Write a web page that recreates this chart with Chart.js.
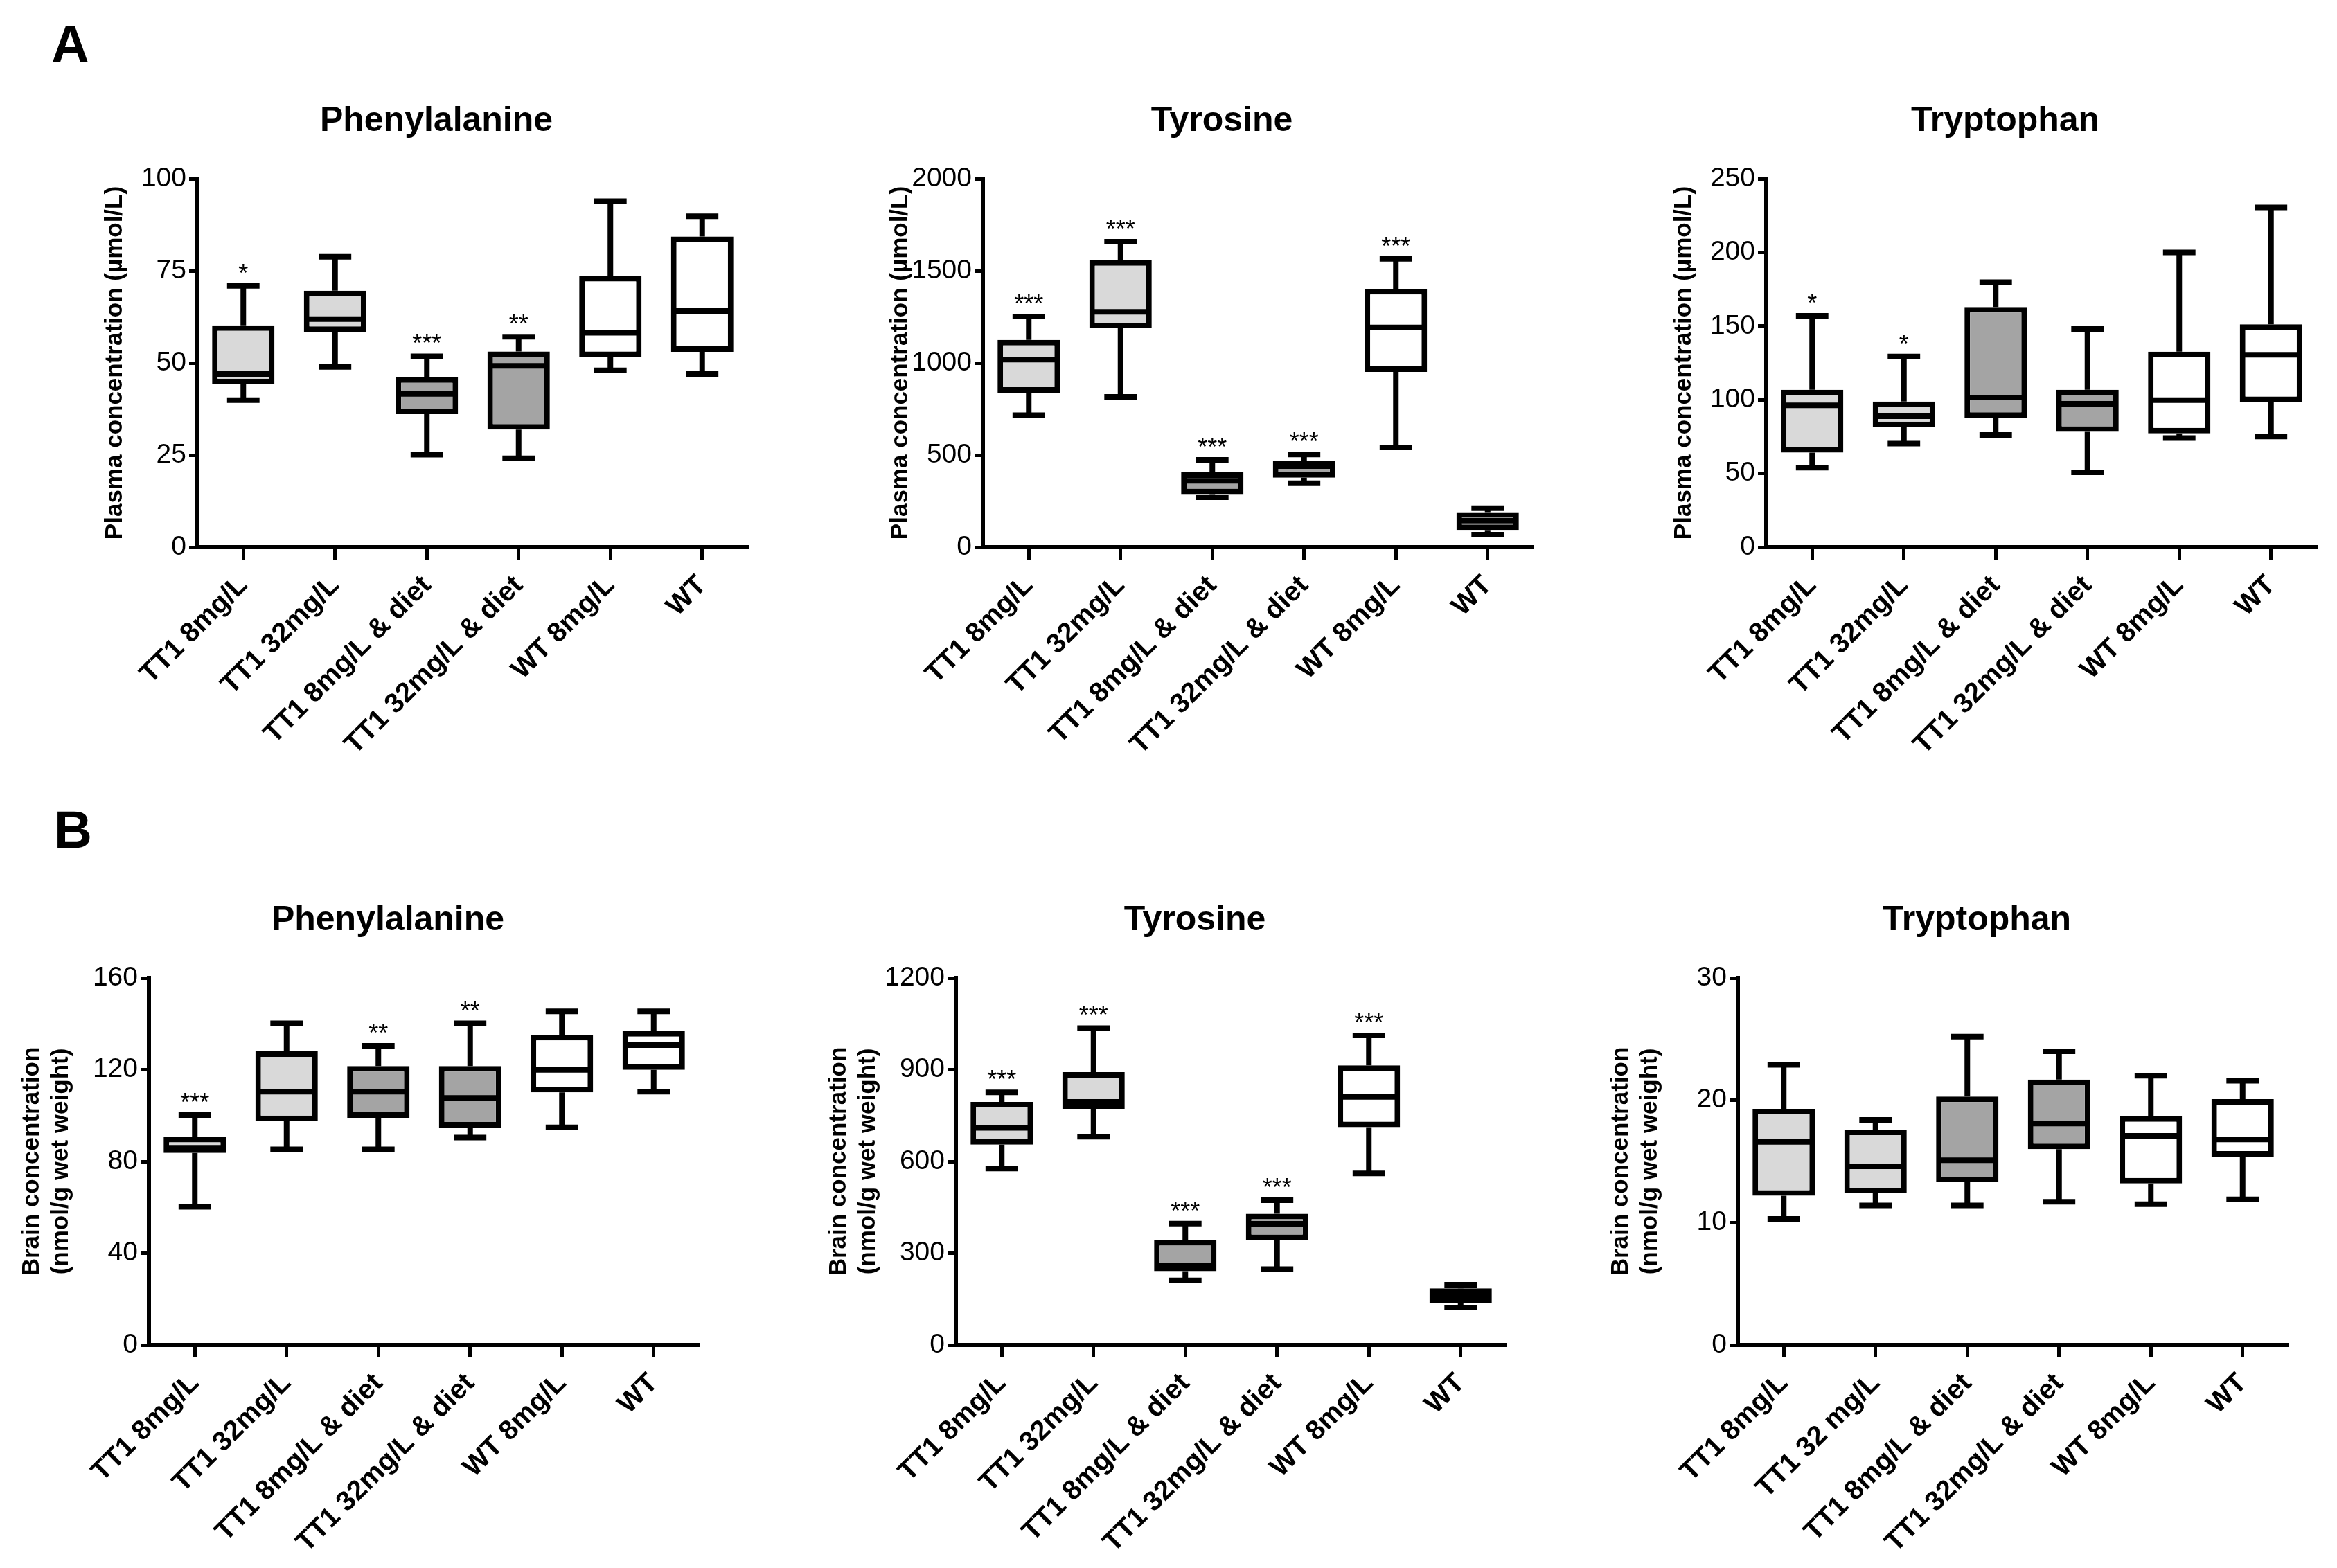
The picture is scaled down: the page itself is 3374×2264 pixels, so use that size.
<!DOCTYPE html>
<html>
<head>
<meta charset="utf-8">
<script src="https://cdn.jsdelivr.net/npm/chart.js@4.4.1/dist/chart.umd.min.js"></script>
<style>
  body { margin: 0; background: #fff; width: 3374px; height: 2264px; position: relative; overflow: hidden;
         font-family: 'Liberation Sans', Arial, sans-serif; }
  .letter { position: absolute; font-weight: bold; font-size: 76px; line-height: 1; color: #000; }
  .panel { position: absolute; }
</style>
</head>
<body>
<div class="letter" style="left:74px;top:26px">A</div>
<div class="letter" style="left:78px;top:1160px">B</div>
<div class="panel" id="p1"><canvas id="c1"></canvas></div>
<div class="panel" id="p2"><canvas id="c2"></canvas></div>
<div class="panel" id="p3"><canvas id="c3"></canvas></div>
<div class="panel" id="p4"><canvas id="c4"></canvas></div>
<div class="panel" id="p5"><canvas id="c5"></canvas></div>
<div class="panel" id="p6"><canvas id="c6"></canvas></div>
<script>
// groups
const groups = ['TT1 8mg/L', 'TT1 32mg/L', 'TT1 8mg/L & diet', 'TT1 32mg/L & diet', 'WT 8mg/L', 'WT'];
const groupsBrainTrp = ['TT1 8mg/L', 'TT1 32 mg/L', 'TT1 8mg/L & diet', 'TT1 32mg/L & diet', 'WT 8mg/L', 'WT'];

// A - plasma phenylalanine
const plasmaPheMin = [39.9, 48.9, 25.1, 24.1, 48.0, 47.0];
const plasmaPheQ1  = [44.2, 58.4, 36.1, 31.9, 51.6, 53.0];
const plasmaPheMed = [47.0, 61.9, 41.6, 49.2, 58.2, 64.1];
const plasmaPheQ3  = [60.2, 69.6, 46.1, 53.1, 73.6, 84.3];
const plasmaPheMax = [70.9, 78.8, 51.8, 57.1, 93.9, 89.8];
const plasmaPheSig = ['*', '', '***', '**', '', ''];

// A - plasma tyrosine
const plasmaTyrMin = [716, 816, 271, 347, 541, 68];
const plasmaTyrQ1  = [838, 1188, 288, 377, 951, 93];
const plasmaTyrMed = [1018, 1277, 360, 440, 1193, 144];
const plasmaTyrQ3  = [1125, 1557, 406, 469, 1401, 190];
const plasmaTyrMax = [1252, 1658, 474, 503, 1565, 211];
const plasmaTyrSig = ['***', '***', '***', '***', '***', ''];

// A - plasma tryptophan
const plasmaTrpMin = [53.9, 70.2, 76.1, 50.8, 74.0, 75.1];
const plasmaTrpQ1  = [64.1, 81.4, 87.8, 78.3, 77.2, 98.4];
const plasmaTrpMed = [96.2, 88.8, 101.5, 97.3, 99.8, 130.5];
const plasmaTrpQ3  = [106.8, 98.8, 162.9, 106.8, 132.6, 151.2];
const plasmaTrpMax = [156.9, 129.4, 179.8, 148.0, 199.9, 230.5];
const plasmaTrpSig = ['*', '*', '', '', '', ''];

// B - brain phenylalanine
const brainPheMin = [60.2, 85.3, 85.3, 90.4, 94.9, 110.4];
const brainPheQ1  = [83.7, 97.6, 99.0, 94.8, 110.1, 119.9];
const brainPheMed = [86.0, 110.4, 110.4, 107.7, 119.9, 130.7];
const brainPheQ3  = [90.7, 128.0, 121.6, 121.6, 135.2, 136.8];
const brainPheMax = [100.2, 140.2, 130.4, 140.2, 145.4, 145.4];
const brainPheSig = ['***', '', '**', '**', '', ''];

// B - brain tyrosine
const brainTyrMin = [577, 681, 211, 248, 561, 122];
const brainTyrQ1  = [655, 772, 241, 343, 712, 137];
const brainTyrMed = [710, 795, 258, 396, 811, 160];
const brainTyrQ3  = [795, 892, 343, 429, 914, 185];
const brainTyrMax = [826, 1036, 397, 473, 1012, 197];
const brainTyrSig = ['***', '***', '***', '***', '***', ''];

// B - brain tryptophan
const brainTrpMin = [10.3, 11.4, 11.4, 11.7, 11.5, 11.9];
const brainTrpQ1  = [12.2, 12.4, 13.3, 16.0, 13.2, 15.4];
const brainTrpMed = [16.6, 14.6, 15.1, 18.1, 17.1, 16.8];
const brainTrpQ3  = [19.3, 17.6, 20.3, 21.7, 18.7, 20.1];
const brainTrpMax = [22.9, 18.4, 25.2, 24.0, 22.0, 21.6];
const brainTrpSig = ['', '', '', '', '', ''];

const fills = ['#d9d9d9', '#d9d9d9', '#a4a4a4', '#a4a4a4', '#ffffff', '#ffffff'];
const FONT = "'Liberation Sans', Arial, sans-serif";
const TICKFONT = "'Liberation Sans Narrow', 'Liberation Sans', Arial, sans-serif";
const LINE = 8;

// whiskers, medians, stars and panel title drawn from the chart's scales
const boxPlot = {
    id: 'boxPlot',
    afterDatasetsDraw(chart, args, opts) {
        const ctx = chart.ctx;
        const xs = chart.scales.x, ys = chart.scales.y;
        const meta = chart.getDatasetMeta(0);
        ctx.save();
        ctx.strokeStyle = '#000';
        ctx.fillStyle = '#000';
        ctx.lineWidth = LINE;
        opts.min.forEach(function (v, i) {
            const cx = xs.getPixelForValue(i);
            const half = meta.data[i].width / 2;
            const cap = half * 0.52;
            const yMin = ys.getPixelForValue(v);
            const yMax = ys.getPixelForValue(opts.max[i]);
            const yQ1 = ys.getPixelForValue(opts.q1[i]);
            const yQ3 = ys.getPixelForValue(opts.q3[i]);
            const yMed = ys.getPixelForValue(opts.med[i]);
            ctx.beginPath();
            ctx.moveTo(cx, yQ3); ctx.lineTo(cx, yMax);
            ctx.moveTo(cx - cap, yMax); ctx.lineTo(cx + cap, yMax);
            ctx.moveTo(cx, yQ1); ctx.lineTo(cx, yMin);
            ctx.moveTo(cx - cap, yMin); ctx.lineTo(cx + cap, yMin);
            ctx.moveTo(cx - half + 3, yMed); ctx.lineTo(cx + half - 3, yMed);
            ctx.stroke();
            if (opts.stars[i]) {
                ctx.font = '36px ' + FONT;
                ctx.textAlign = 'center';
                ctx.textBaseline = 'alphabetic';
                ctx.fillText(opts.stars[i], cx, yMax - 6);
            }
        });
        ctx.font = 'bold 50px ' + FONT;
        ctx.textAlign = 'center';
        ctx.textBaseline = 'middle';
        ctx.fillText(opts.title, chart.chartArea.left + 345, chart.chartArea.top - 83);
        ctx.restore();
    }
};

function makePanel(n, p) {
    const padTop = 150, padRight = 20, xh = 310;
    const div = document.getElementById('p' + n);
    div.style.left = (p.x - p.yw) + 'px';
    div.style.top = (p.top - padTop) + 'px';
    div.style.width = (p.yw + p.w + padRight) + 'px';
    div.style.height = (padTop + (p.bottom - p.top) + xh) + 'px';

    new Chart(document.getElementById('c' + n), {
        type: 'bar',
        data: {
            labels: p.labels,
            datasets: [{
                data: p.q1.map(function (v, i) { return [v, p.q3[i]]; }),
                backgroundColor: fills,
                borderColor: '#000',
                borderWidth: LINE,
                borderSkipped: false,
                barPercentage: 0.68,
                categoryPercentage: 1
            }]
        },
        options: {
            responsive: true,
            maintainAspectRatio: false,
            animation: false,
            layout: { padding: { top: padTop, right: padRight, left: 0, bottom: 0 } },
            plugins: {
                legend: { display: false },
                tooltip: { enabled: false },
                boxPlot: { min: p.min, q1: p.q1, med: p.med, q3: p.q3, max: p.max, stars: p.stars, title: p.title }
            },
            scales: {
                x: {
                    offset: true,
                    grid: { display: true, drawOnChartArea: false, offset: false, tickLength: 18, tickWidth: 5, tickColor: '#000' },
                    border: { display: true, color: '#000', width: 6 },
                    ticks: { color: '#000', font: { family: FONT, size: 40, weight: 'bold' }, minRotation: 45, maxRotation: 45, autoSkip: false, padding: 14 },
                    afterFit: function (s) { s.height = xh; }
                },
                y: {
                    min: 0,
                    max: p.yMax,
                    ticks: { stepSize: p.step, color: '#000', font: { family: TICKFONT, size: 39 }, padding: 4,
                             callback: function (v) { return String(v); } },
                    grid: { display: true, drawOnChartArea: false, tickLength: 12, tickWidth: 5, tickColor: '#000' },
                    border: { display: true, color: '#000', width: 6 },
                    title: { display: true, text: p.yTitle, color: '#000', font: { family: FONT, size: 35, weight: 'bold' }, padding: 0 },
                    afterFit: function (s) { s.width = p.yw; }
                }
            }
        },
        plugins: [boxPlot]
    });
}

const plasmaTitle = 'Plasma concentration (\u00b5mol/L)';
const brainTitle = ['Brain concentration', '(nmol/g wet weight)'];

makePanel(1, { x: 285, top: 258, bottom: 790, w: 795, yw: 140, labels: groups, title: 'Phenylalanine', yTitle: plasmaTitle, yMax: 100, step: 25,
    min: plasmaPheMin, q1: plasmaPheQ1, med: plasmaPheMed, q3: plasmaPheQ3, max: plasmaPheMax, stars: plasmaPheSig });
makePanel(2, { x: 1419, top: 258, bottom: 790, w: 795, yw: 140, labels: groups, title: 'Tyrosine', yTitle: plasmaTitle, yMax: 2000, step: 500,
    min: plasmaTyrMin, q1: plasmaTyrQ1, med: plasmaTyrMed, q3: plasmaTyrQ3, max: plasmaTyrMax, stars: plasmaTyrSig });
makePanel(3, { x: 2550, top: 258, bottom: 790, w: 795, yw: 140, labels: groups, title: 'Tryptophan', yTitle: plasmaTitle, yMax: 250, step: 50,
    min: plasmaTrpMin, q1: plasmaTrpQ1, med: plasmaTrpMed, q3: plasmaTrpQ3, max: plasmaTrpMax, stars: plasmaTrpSig });
makePanel(4, { x: 215, top: 1412, bottom: 1942, w: 795, yw: 190, labels: groups, title: 'Phenylalanine', yTitle: brainTitle, yMax: 160, step: 40,
    min: brainPheMin, q1: brainPheQ1, med: brainPheMed, q3: brainPheQ3, max: brainPheMax, stars: brainPheSig });
makePanel(5, { x: 1380, top: 1412, bottom: 1942, w: 795, yw: 190, labels: groups, title: 'Tyrosine', yTitle: brainTitle, yMax: 1200, step: 300,
    min: brainTyrMin, q1: brainTyrQ1, med: brainTyrMed, q3: brainTyrQ3, max: brainTyrMax, stars: brainTyrSig });
makePanel(6, { x: 2509, top: 1412, bottom: 1942, w: 795, yw: 190, labels: groupsBrainTrp, title: 'Tryptophan', yTitle: brainTitle, yMax: 30, step: 10,
    min: brainTrpMin, q1: brainTrpQ1, med: brainTrpMed, q3: brainTrpQ3, max: brainTrpMax, stars: brainTrpSig });
</script>
</body>
</html>
